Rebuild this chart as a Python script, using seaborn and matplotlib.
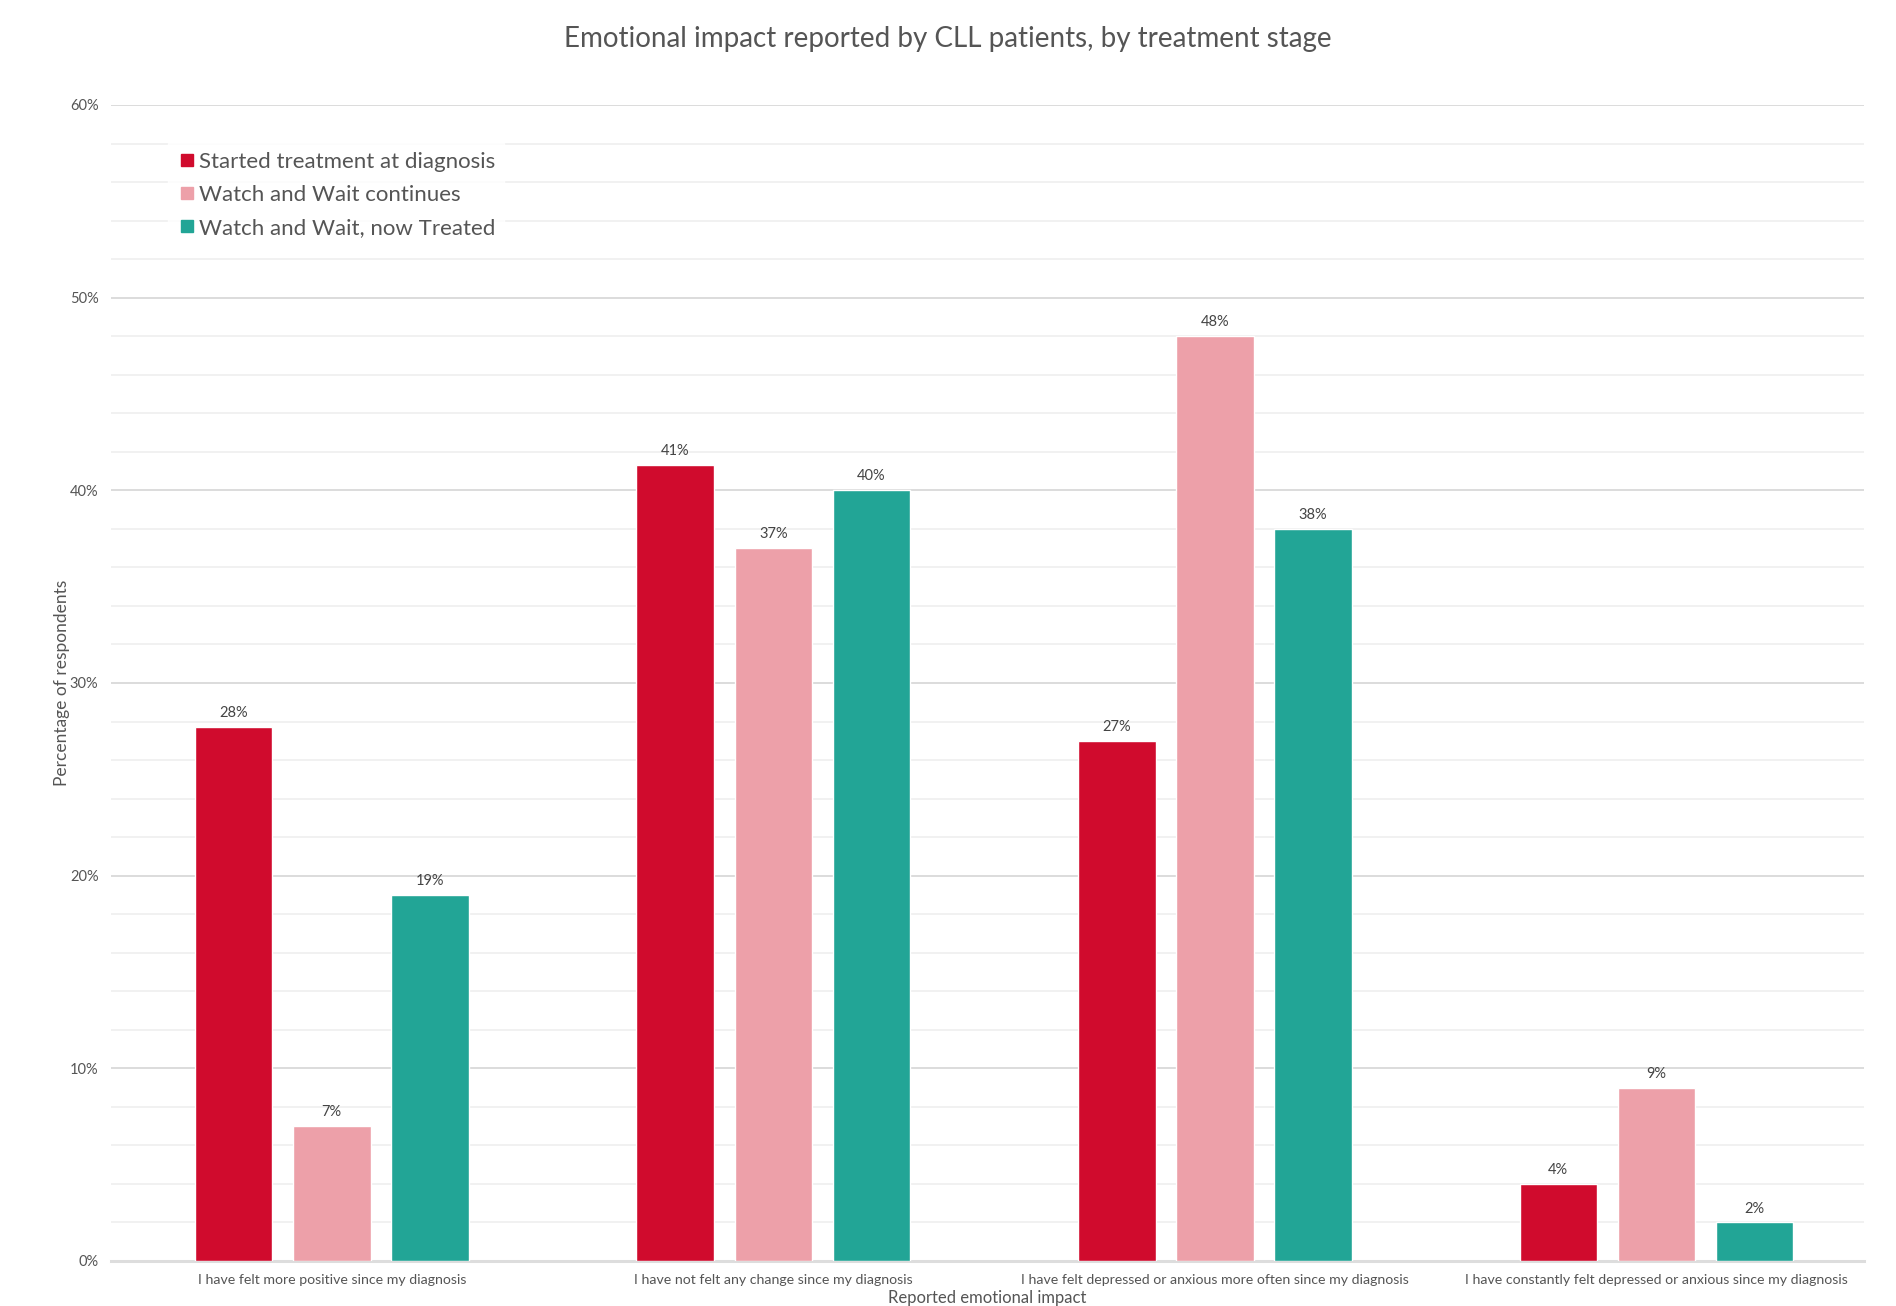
import matplotlib
matplotlib.use("Agg")
import matplotlib.pyplot as plt
from matplotlib.ticker import MultipleLocator, FuncFormatter
from matplotlib.lines import Line2D
import seaborn as sns
import pandas as pd

categories = [
    "I have felt more positive since my diagnosis",
    "I have not felt any change since my diagnosis",
    "I have felt depressed or anxious more often since my diagnosis",
    "I have constantly felt depressed or anxious since my diagnosis",
]
groups = [
    "Started treatment at diagnosis",
    "Watch and Wait continues",
    "Watch and Wait, now Treated",
]
started_at_diagnosis = [27.7, 41.3, 27.0, 4.0]
watch_wait_continues = [7.0, 37.0, 48.0, 9.0]
watch_wait_now_treated = [19.0, 40.0, 38.0, 2.0]
colors = ["#D00B2D", "#EDA0A9", "#22A596"]

df = pd.DataFrame({
    "impact": categories * 3,
    "group": [g for g in groups for _ in categories],
    "pct": started_at_diagnosis + watch_wait_continues + watch_wait_now_treated,
})

sns.set_theme(style="white")
plt.rcParams["font.family"] = ["Lato", "DejaVu Sans"]
text_color = "#555555"

fig = plt.figure(figsize=(18.96, 13.06), dpi=100)
ax = fig.add_axes([111 / 1896, 1 - 1261 / 1306, (1864 - 111) / 1896, (1261 - 105) / 1306])

sns.barplot(data=df, x="impact", y="pct", hue="group", hue_order=groups,
            palette=colors, width=0.667, gap=0.21, saturation=1,
            order=categories, ax=ax, legend=False, zorder=3)

ax.set_ylim(0, 60)
ax.set_xlim(-0.5, 3.47)
ax.yaxis.set_major_locator(MultipleLocator(10))
ax.yaxis.set_minor_locator(MultipleLocator(2))
ax.yaxis.set_major_formatter(FuncFormatter(lambda v, p: f"{v:.0f}%"))
ax.grid(axis="y", which="major", color="#D9D9D9", linewidth=1.3, zorder=0)
ax.grid(axis="y", which="minor", color="#EFEFEF", linewidth=1.2, zorder=0)
ax.set_axisbelow(True)
for s in ["left", "right", "top"]:
    ax.spines[s].set_visible(False)
ax.spines["bottom"].set_color("#DDDDDD")
ax.spines["bottom"].set_linewidth(2.2)

ax.tick_params(axis="y", which="both", length=0, labelsize=10.5, labelcolor=text_color, pad=9)
ax.tick_params(axis="x", length=0, labelsize=10.2, labelcolor=text_color, pad=9)

for cont in ax.containers:
    ax.bar_label(cont, labels=[f"{v:.0f}%" for v in cont.datavalues],
                 padding=5, fontsize=10.5, color="#444444")

ax.set_xlabel("Reported emotional impact", fontsize=12, color=text_color)
ax.xaxis.set_label_coords(0.5, (1261 - 1298) / 1156)
ax.xaxis.label.set_va("center")
ax.set_ylabel("Percentage of respondents", fontsize=12.5, color=text_color)
ax.yaxis.set_label_coords((62 - 111) / 1753, 0.5)
ax.yaxis.label.set_va("center")

fig.text(0.5, 1 - 39 / 1306, "Emotional impact reported by CLL patients, by treatment stage",
         ha="center", va="center", fontsize=20, color=text_color)

handles = [Line2D([0], [0], marker="s", linestyle="", markersize=9,
                  markerfacecolor=c, markeredgecolor=c) for c in colors]
leg = ax.legend(handles, groups, loc="upper left", bbox_to_anchor=(0.026, 0.977),
                frameon=True, fontsize=16, handletextpad=0.1, labelspacing=0.6,
                borderpad=0.4, handlelength=0.9, fancybox=False)
leg.get_frame().set_facecolor("white")
leg.get_frame().set_edgecolor("white")
for t in leg.get_texts():
    t.set_color(text_color)

fig.savefig("out.png", dpi=100, facecolor="white")
